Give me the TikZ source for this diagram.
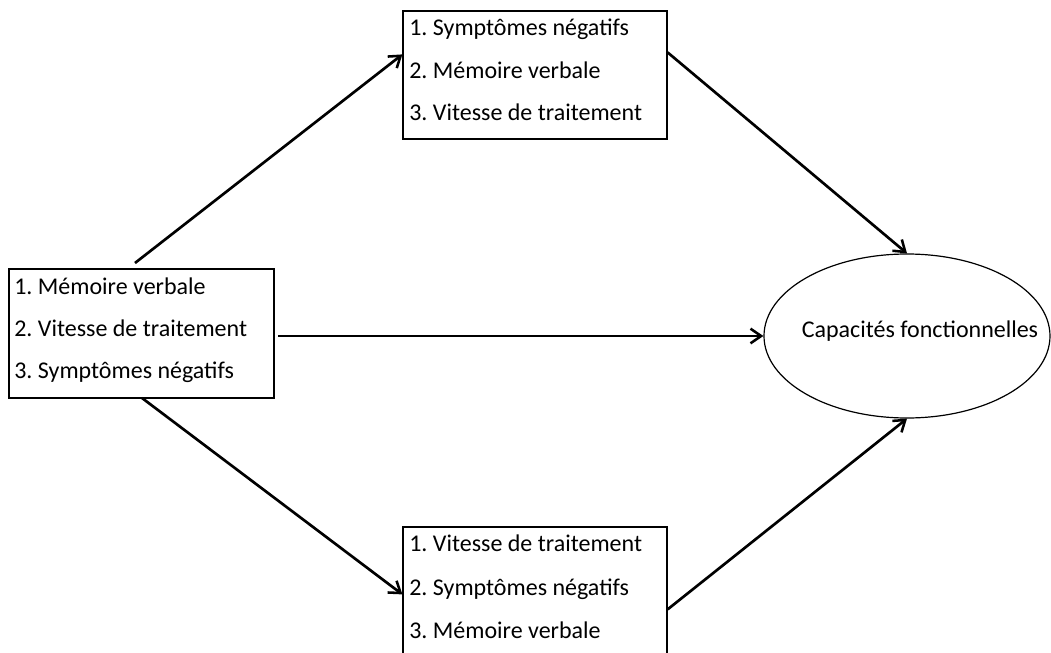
\documentclass[tikz,border=0pt]{standalone}
\usepackage{fontspec}
\setmainfont{Carlito}
\frenchspacing
\usetikzlibrary{arrows.meta,calc,shapes.geometric}
\begin{document}
\begin{tikzpicture}[x=0.75pt,y=-0.75pt,
  box/.style={draw=black,line width=0.9pt,inner sep=0pt,fill=white},
  txt/.style={anchor=mid west,inner sep=0pt,font=\fontsize{18}{21}\selectfont},
  arr/.style={line width=2pt,-{Straight Barb[length=8pt,width=11pt,line width=1.9pt]}},
]
\useasboundingbox (0,0) rectangle (1051,653);
\clip (0,0) rectangle (1051,653);
\fill[white] (0,0) rectangle (1051,653);
% boxes
\node[box,minimum width=198.75pt,minimum height=96.75pt] (lbox) at (141.5,333.5) {};
\node[box,minimum width=198pt,minimum height=96pt] (tbox) at (535,75) {};
\node[box,minimum width=198pt,minimum height=99.75pt] (bbox) at (535,593.5) {};
\node[draw=black,line width=0.9pt,ellipse,inner sep=0pt,minimum width=214.5pt,minimum height=123pt] (ell) at (907,336) {};
% texts
\node[txt] (l1) at (14,291) {1. Mémoire verbale};
\node[txt] (l2) at (14,333) {2. Vitesse de traitement};
\node[txt] (l3) at (14,375) {3. Symptômes négatifs};
\node[txt] (t1) at (409,32) {1. Symptômes négatifs};
\node[txt] (t2) at (409,75) {2. Mémoire verbale};
\node[txt] (t3) at (409,117) {3. Vitesse de traitement};
\node[txt] (b1) at (409,548) {1. Vitesse de traitement};
\node[txt] (b2) at (409,592) {2. Symptômes négatifs};
\node[txt] (b3) at (409,635) {3. Mémoire verbale};
\node[txt,anchor=mid] (et) at (920,334) {Capacités fonctionnelles};
% connectors
\coordinate (s1) at (135,263);
\coordinate (s2) at (278,336);
\coordinate (s3) at (142,398);
\draw[arr] (s1) -- ($(tbox.north west)+(0,44)$);
\draw[arr] (s2) -- (ell.west);
\draw[arr] (s3) -- ($(bbox.north west)+(0,68)$);
\draw[arr] ($(tbox.north east)+(0,42)$) -- (ell.north);
\draw[arr] ($(bbox.north east)+(0,83)$) -- (ell.south);
\end{tikzpicture}
\end{document}
